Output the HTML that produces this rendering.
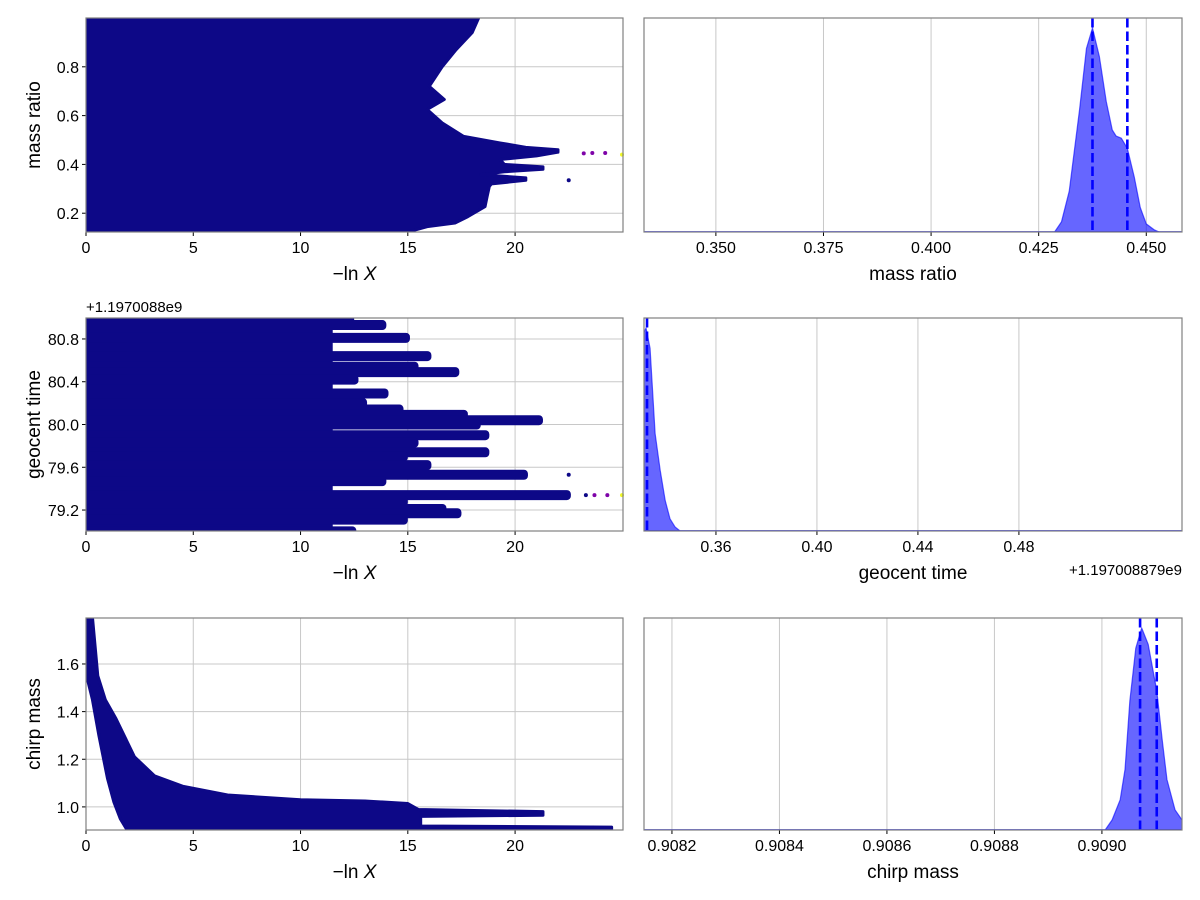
<!DOCTYPE html>
<html><head><meta charset="utf-8"><style>
body{margin:0;background:#fff;}
svg{display:block;font-family:"Liberation Sans",sans-serif;}
</style></head><body>
<svg id="fig" width="1200" height="900" xmlns="http://www.w3.org/2000/svg"></svg>
<script>
// ---- data ----
const p1Y = [1.0,0.94,0.87,0.80,0.72,0.666,0.625,0.57,0.515,0.488,0.47,0.46,0.45,0.435,0.42,0.40,0.39,0.38,0.37,0.358,0.345,0.335,0.32,0.31,0.27,0.227,0.186,0.16,0.145,0.123];
const p1X = [18.3,18.0,17.25,16.6,16.0,16.7,15.9,16.6,17.6,19.3,20.5,22.0,22.0,21.0,19.3,19.5,21.3,21.3,19.5,18.4,20.5,20.5,18.9,18.8,18.7,18.6,17.8,17.2,15.9,15.0];
const p1DotX = [22.5,23.2,23.6,24.2];
const p1DotY = [0.335,0.445,0.447,0.447];
const p2Y = [80.98,80.93,80.81,80.64,80.54,80.49,80.42,80.29,80.20,80.14,80.09,80.04,80.0,79.9,79.83,79.74,79.70,79.62,79.53,79.47,79.34,79.28,79.21,79.17,79.11,79.0];
const p2X = [12.5,14.0,15.1,16.1,15.5,17.4,12.7,14.1,13.1,14.8,17.8,21.3,18.4,18.8,15.5,18.8,15.0,16.1,20.6,14.0,22.6,15.0,16.8,17.5,15.0,12.6];
const p2DotX = [22.5,23.3,23.7,24.3];
const p2DotY = [79.53,79.34,79.34,79.34];
const p3UpX = [0,0.3,0.55,0.9,1.4,2.26,3.2,4.5,6.6,10,13,15,15.5,21.3,21.3,15.6,15.6,24.5,24.5];
const p3UpY = [1.797,1.797,1.55,1.45,1.37,1.21,1.13,1.087,1.05,1.03,1.025,1.014,0.989,0.98,0.965,0.96,0.92,0.915,0.905];
const p3LoX = [1.9,1.6,1.3,1.0,0.6,0.3,0];
const p3LoY = [0.905,0.95,1.02,1.12,1.3,1.45,1.56];
const d1X = [0.4287,0.4303,0.4321,0.4345,0.4361,0.4375,0.4391,0.4407,0.4421,0.4430,0.4442,0.4456,0.4472,0.4486,0.4500,0.4519,0.4530];
const d1V = [0,0.05,0.2,0.6,0.9,1,0.86,0.64,0.5,0.47,0.46,0.41,0.27,0.12,0.04,0.01,0];
const d1Dash = [0.4375,0.4456];
const d2X = [0.3315,0.3323,0.3339,0.3359,0.3379,0.3399,0.3418,0.3438,0.3458,0.5446];
const d2V = [0.98,1,0.9,0.48,0.3,0.15,0.06,0.02,0,0];
const d2Dash = [0.3327];
const d3X = [0.909006,0.909019,0.909034,0.909043,0.909052,0.909063,0.909074,0.909086,0.909102,0.909112,0.909121,0.909136,0.909149];
const d3V = [0,0.05,0.15,0.3,0.64,0.9,1,0.92,0.69,0.45,0.25,0.1,0.05];
const d3Dash = [0.909071,0.909102];
const ticks1 = [0,5,10,15,20];
const p1YT = [0.2,0.4,0.6,0.8], p2YT = [79.2,79.6,80.0,80.4,80.8], p3YT = [1.0,1.2,1.4,1.6];
const r1T = [0.350,0.375,0.400,0.425,0.450], r2T=[0.36,0.40,0.44,0.48], r3T=[0.9082,0.9084,0.9086,0.9088,0.9090];
</script>
<script>
const NS="http://www.w3.org/2000/svg", svg=document.getElementById('fig');
function mk(tag,attrs,parent){const e=document.createElementNS(NS,tag);for(const k in attrs)e.setAttribute(k,attrs[k]);(parent||svg).appendChild(e);return e;}
function lin(d0,d1,r0,r1){return v=>r0+(v-d0)/(d1-d0)*(r1-r0);}
const L={x0:86,x1:623}, R={x0:644,x1:1182};
const rows=[{y0:18,y1:232},{y0:318,y1:531},{y0:618,y1:830}];
const SC="#0d0887";
const xL = lin(0,25.03,86,623);
function frameAxes(box,row,name,xt,xs,fmt,yt,ys,yfmt){
  const g=mk('g',{});
  
  
  xt.forEach(t=>{const x=xs(t);
    const l=mk('line',{x1:x,x2:x,y1:row.y0,y2:row.y1,stroke:'#c8c8c8','stroke-width':1},g);
    
    mk('line',{x1:x,x2:x,y1:row.y1,y2:row.y1+4,stroke:'#000'},g);
    const tx=mk('text',{x:x,y:row.y1+21,'text-anchor':'middle','font-size':16,fill:'#000'},g);
    
    tx.textContent=fmt(t);});
  if(yt) yt.forEach(t=>{const y=ys(t);
    const l=mk('line',{x1:box.x0,x2:box.x1,y1:y,y2:y,stroke:'#c8c8c8','stroke-width':1},g);
    
    mk('line',{x1:box.x0-4,x2:box.x0,y1:y,y2:y,stroke:'#000'},g);
    const tx=mk('text',{x:box.x0-7,y:y+6,'text-anchor':'end','font-size':16,fill:'#000'},g);
    
    tx.textContent=yfmt(t);});
  return g;
}
function spine(box,row,name){const r=mk('rect',{x:box.x0,y:row.y0,width:box.x1-box.x0,height:row.y1-row.y0,fill:'none',stroke:'#808080','stroke-width':1.2});
  }
function xlabel(box,row,txt,name,math){const t=mk('text',{x:(box.x0+box.x1)/2,y:row.y1+48,'text-anchor':'middle','font-size':19,fill:'#000'});
  
  if(math){t.innerHTML='−ln<tspan font-style="italic"> X</tspan>';}else t.textContent=txt;}
function ylabel(row,txt,name){const cy=(row.y0+row.y1)/2;const t=mk('text',{x:40,y:cy,'text-anchor':'middle','font-size':19,fill:'#000',transform:`rotate(-90 40 ${cy})`});
  t.textContent=txt;}
function clip(id,box,row){const c=mk('clipPath',{id:id});mk('rect',{x:box.x0,y:row.y0,width:box.x1-box.x0,height:row.y1-row.y0},c);}

// ---- Panel 1 ----
let r=rows[0]; const y1=lin(0.123,1.0,r.y1,r.y0);
frameAxes(L,r,'mass-ratio-trace',ticks1,xL,v=>v,p1YT,y1,v=>v.toFixed(1));
clip('c1',L,r);
let pts=[[0,1.0]].concat(p1Y.map((y,i)=>[p1X[i],y])).concat([[0,0.123]]);
let poly=mk('polygon',{points:pts.map(p=>xL(p[0])+','+y1(p[1])).join(' '),fill:SC,stroke:SC,'stroke-width':3,'stroke-linejoin':'round','clip-path':'url(#c1)'});

p1DotX.forEach((x,i)=>{const c=mk('circle',{cx:xL(x),cy:y1(p1DotY[i]),r:2,fill:i>0?'#7e03a8':SC});});
mk('circle',{cx:622,cy:y1(0.44),r:2,fill:'#f0f921'});
spine(L,r,'mass-ratio-trace');xlabel(L,r,'','x-axis-title',true);ylabel(r,'mass ratio','y-axis-title');

// ---- Panel 2 ----
r=rows[1]; const y2=lin(79.004,80.996,r.y1,r.y0);
frameAxes(L,r,'geocent-trace',ticks1,xL,v=>v,p2YT,y2,v=>v.toFixed(1));
clip('c2',L,r);
let base=mk('rect',{x:86,y:r.y0,width:xL(11.5)-86,height:r.y1-r.y0,fill:SC});

p2Y.forEach((y,i)=>{const yy=y2(y);const b=mk('rect',{x:86,y:yy-5,width:xL(p2X[i])-86,height:10,rx:4,fill:SC,'clip-path':'url(#c2)'});
  });
p2DotX.forEach((x,i)=>{const c=mk('circle',{cx:xL(x),cy:y2(p2DotY[i]),r:2,fill:i>1?'#7e03a8':SC});});
mk('circle',{cx:622,cy:y2(79.34),r:2,fill:'#f0f921'});
spine(L,r,'geocent-trace');xlabel(L,r,'','x-axis-title',true);ylabel(r,'geocent time','y-axis-title');
let off=mk('text',{x:86,y:r.y0-6,'font-size':15});off.textContent='+1.1970088e9';

// ---- Panel 3 ----
r=rows[2]; const y3=lin(0.903,1.793,r.y1,r.y0);
frameAxes(L,r,'chirp-trace',ticks1,xL,v=>v,p3YT,y3,v=>v.toFixed(1));
clip('c3',L,r);
pts=p3UpX.map((x,i)=>[x,p3UpY[i]]).concat(p3LoX.map((x,i)=>[x,p3LoY[i]]));
poly=mk('polygon',{points:pts.map(p=>xL(p[0])+','+y3(p[1])).join(' '),fill:SC,stroke:SC,'stroke-width':3,'stroke-linejoin':'round','clip-path':'url(#c3)'});

spine(L,r,'chirp-trace');xlabel(L,r,'','x-axis-title',true);ylabel(r,'chirp mass','y-axis-title');

// ---- density panels ----
function dens(row,xs,X,V,D,name,clipId){
  clip(clipId,R,row);
  const h=lin(0,1,row.y1,row.y0+10);
  const p=[[xs(X[0]),row.y1]].concat(X.map((x,i)=>[xs(x),h(V[i])])).concat([[xs(X[X.length-1]),row.y1]]);
  const path=mk('path',{d:'M'+p.map(q=>q.join(',')).join(' L')+' Z',fill:'rgba(0,0,255,0.6)',stroke:'rgba(0,0,255,0.6)','stroke-width':1.2,'stroke-linejoin':'round','clip-path':`url(#${clipId})`});
  
  mk('line',{x1:R.x0,x2:R.x1,y1:row.y1-0.5,y2:row.y1-0.5,stroke:'rgba(0,0,255,0.6)','stroke-width':1});
  D.forEach(d=>{const l=mk('line',{x1:xs(d),x2:xs(d),y1:row.y0,y2:row.y1,stroke:'#0000ff','stroke-width':2.6,'stroke-dasharray':'9.5,4'});
    });
}
r=rows[0]; const rx1=lin(0.3333,0.4583,644,1182);
frameAxes(R,r,'mass-ratio-posterior',r1T,rx1,v=>v.toFixed(3));
dens(r,rx1,d1X,d1V,d1Dash,'mass-ratio','d1');
spine(R,r,'mass-ratio-posterior');xlabel(R,r,'mass ratio','x-axis-title');

r=rows[1]; const rx2=lin(0.3315,0.5446,644,1182);
frameAxes(R,r,'geocent-posterior',r2T,rx2,v=>v.toFixed(2));
dens(r,rx2,d2X,d2V,d2Dash,'geocent-time','d2');
spine(R,r,'geocent-posterior');xlabel(R,r,'geocent time','x-axis-title');
off=mk('text',{x:1182,y:r.y1+44,'text-anchor':'end','font-size':15});off.textContent='+1.197008879e9';

r=rows[2]; const rx3=lin(0.908148,0.909149,644,1182);
frameAxes(R,r,'chirp-posterior',r3T,rx3,v=>v.toFixed(4));
dens(r,rx3,d3X,d3V,d3Dash,'chirp-mass','d3');
spine(R,r,'chirp-posterior');xlabel(R,r,'chirp mass','x-axis-title');
</script>
</body></html>
